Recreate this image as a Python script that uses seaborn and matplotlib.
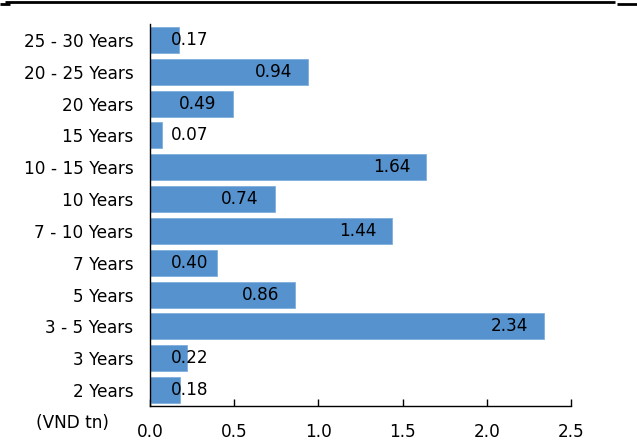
import matplotlib
matplotlib.use("Agg")
import matplotlib.pyplot as plt
from matplotlib.lines import Line2D
import seaborn as sns
import pandas as pd

# Issuance by tenor (VND tn)
tenors = ["25 - 30 Years", "20 - 25 Years", "20 Years", "15 Years", "10 - 15 Years",
          "10 Years", "7 - 10 Years", "7 Years", "5 Years", "3 - 5 Years",
          "3 Years", "2 Years"]
values = [0.17, 0.94, 0.49, 0.07, 1.64, 0.74, 1.44, 0.40, 0.86, 2.34, 0.22, 0.18]
x_ticks = [0.0, 0.5, 1.0, 1.5, 2.0, 2.5]

df = pd.DataFrame({"tenor": tenors, "value": values})

sns.set_theme(style="white")
plt.rcParams["font.family"] = ["DejaVu Sans"]
FS = 12.2

fig = plt.figure(figsize=(6.37, 4.41), dpi=100)
ax = fig.add_axes([150 / 637, 1 - 406 / 441, 421 / 637, 382 / 441])

sns.barplot(data=df, x="value", y="tenor", orient="h", color="#5592CE",
            saturation=1, width=0.82, edgecolor="#7FB0DD", linewidth=0.6, ax=ax)

ax.set_xlim(0, 2.5)
ax.set_ylim(len(tenors) - 0.5, -0.5)
ax.set_xticks(x_ticks)
ax.set_xticklabels([f"{t:.1f}" for t in x_ticks])
ax.set_xlabel("")
ax.set_ylabel("")

for s in ["top", "right"]:
    ax.spines[s].set_visible(False)
for s in ["left", "bottom"]:
    ax.spines[s].set_color("black")
    ax.spines[s].set_linewidth(1.0)

ax.tick_params(axis="x", direction="in", length=5, width=1, color="black",
               labelsize=FS, pad=12, bottom=True)
ax.tick_params(axis="y", length=0, labelsize=FS, pad=12)
for lab in ax.get_xticklabels() + ax.get_yticklabels():
    lab.set_color("black")

# Value labels: right-aligned inside bar end, kept clear of the axis for short bars
for i, v in enumerate(values):
    xr = max(v - 0.095, 0.345)
    ax.text(xr, i, f"{v:.2f}", ha="right", va="center", fontsize=FS, color="black")

fig.text(72 / 637, 1 - 423 / 441, "(VND tn)", ha="center", va="center",
         fontsize=FS, color="black")

# Rule across the top of the figure
fig.add_artist(Line2D([5 / 637, 615 / 637], [1 - 2 / 441, 1 - 2 / 441],
                      transform=fig.transFigure, color="black", lw=2,
                      solid_capstyle="butt"))
fig.add_artist(Line2D([617 / 637, 1.0], [1 - 4 / 441, 1 - 4 / 441],
                      transform=fig.transFigure, color="black", lw=2,
                      solid_capstyle="butt"))
fig.add_artist(Line2D([0.0, 10 / 637], [1 - 4 / 441, 1 - 4 / 441],
                      transform=fig.transFigure, color="black", lw=2,
                      solid_capstyle="butt"))

fig.savefig("out.png", dpi=100)
